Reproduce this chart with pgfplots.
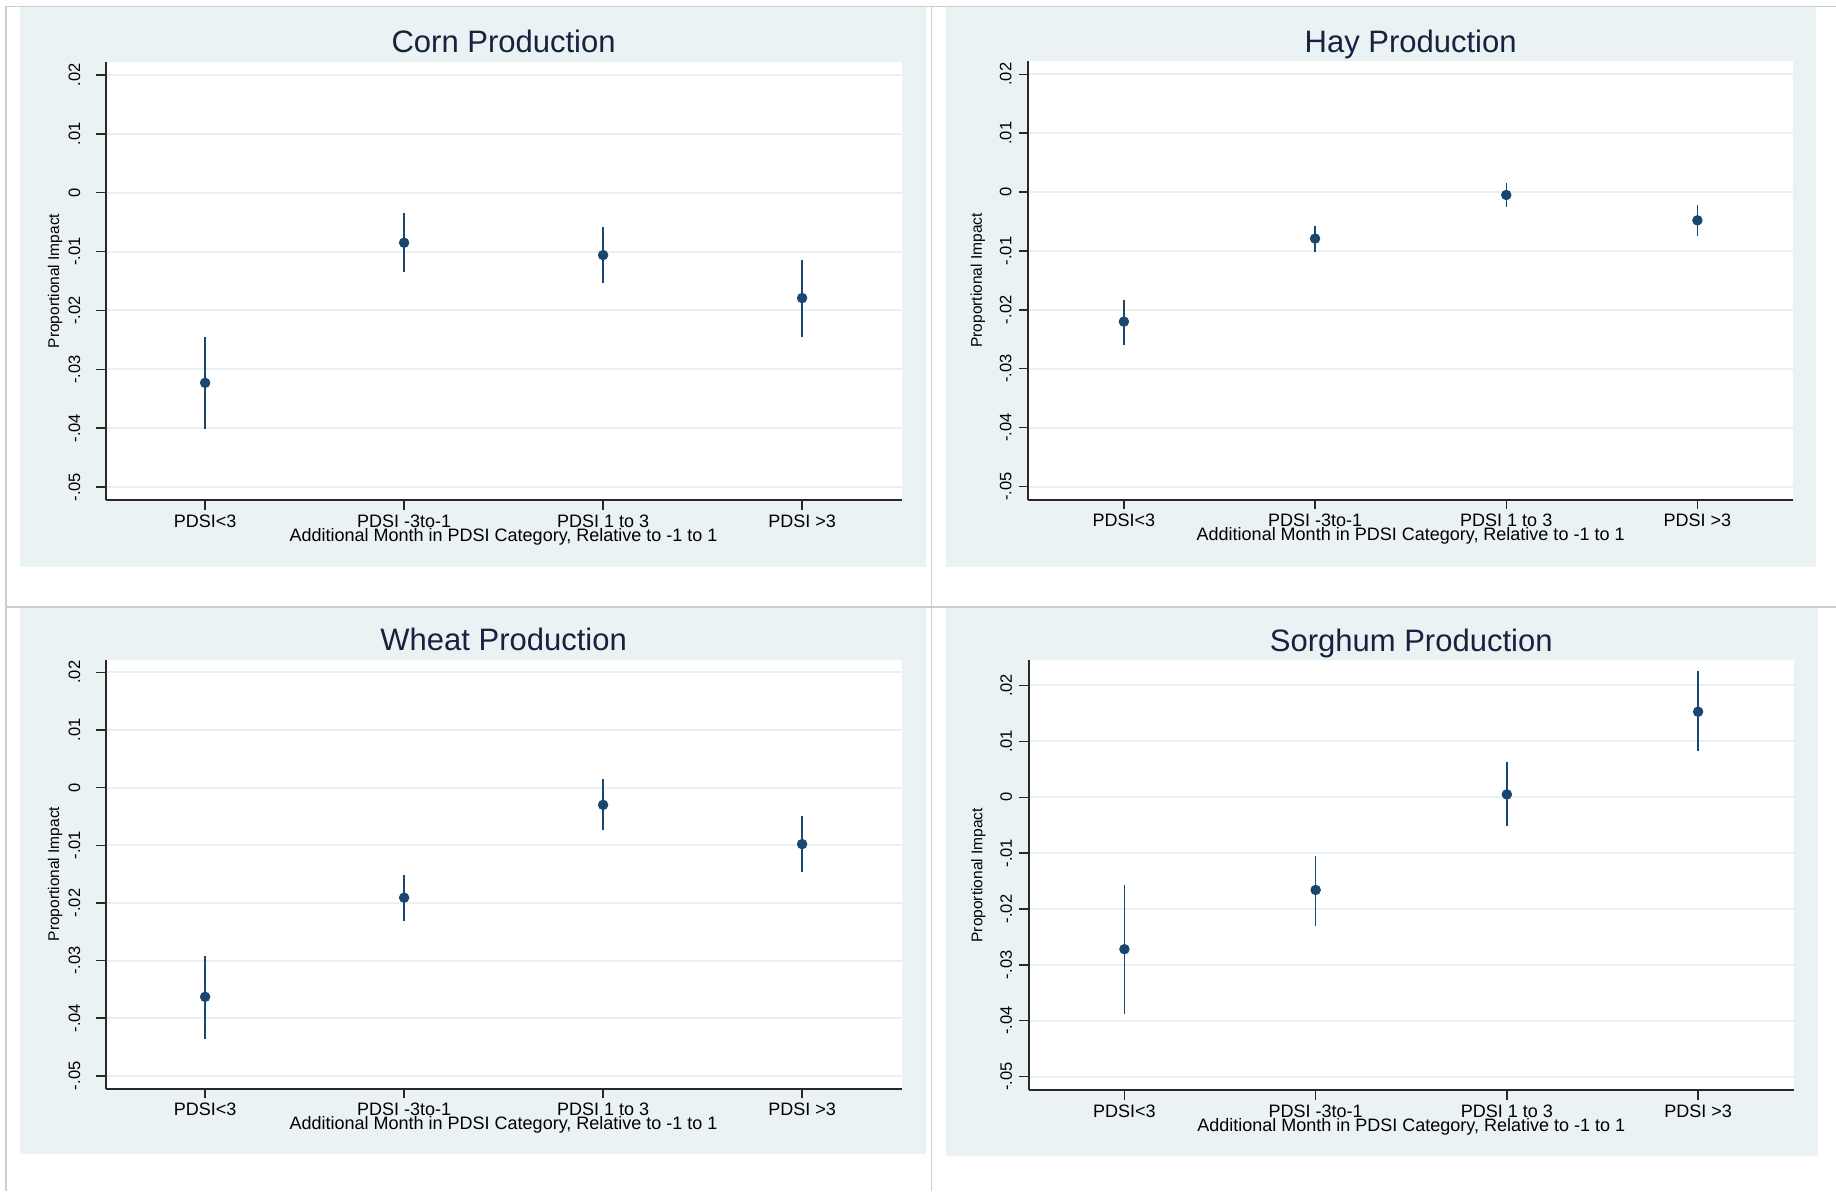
\documentclass[border=0pt]{standalone}
\usepackage{fontspec}
\setmainfont{Liberation Sans}
\usepackage{pgfplots}
\pgfplotsset{compat=1.18}
\usepackage{pgfplotstable}

\definecolor{panelbg}{RGB}{234,242,243}
\definecolor{gridc}{RGB}{232,240,242}
\definecolor{navy}{RGB}{26,71,111}
\definecolor{framec}{RGB}{204,204,204}
\definecolor{axc}{RGB}{40,40,40}
\definecolor{titc}{RGB}{22,34,62}

\pgfplotstableread{
x y lo hi
0 -0.0323 -0.0402 -0.0245
1 -0.0085 -0.0134 -0.0034
2 -0.0106 -0.0153 -0.0059
3 -0.0179 -0.0245 -0.0114
}\corn
\pgfplotstableread{
x y lo hi
0 -0.0220 -0.0259 -0.0183
1 -0.0079 -0.0101 -0.0057
2 -0.0005 -0.0026 0.0015
3 -0.0048 -0.0075 -0.0022
}\hay
\pgfplotstableread{
x y lo hi
0 -0.0363 -0.0436 -0.0292
1 -0.0191 -0.0231 -0.0151
2 -0.0030 -0.0073 0.0015
3 -0.0098 -0.0146 -0.0050
}\wheat
\pgfplotstableread{
x y lo hi
0 -0.0272 -0.0388 -0.0158
1 -0.0166 -0.0230 -0.0105
2 0.0005 -0.0052 0.0063
3 0.0153 0.0082 0.0225
}\sorghum

\pgfplotsset{
  panel/.style={
    scale only axis, anchor=south west,
    xmin=-0.5, xmax=3.5,
    scaled y ticks=false,
    axis x line*=bottom, axis y line*=left,
    axis line style={axc, line width=1pt},
    xtick={0,1,2,3},
    xticklabels={PDSI<3,PDSI -3to-1,PDSI 1 to 3,PDSI >3},
    ytick={-0.05,-0.04,-0.03,-0.02,-0.01,0,0.01,0.02},
    yticklabels={-.05,-.04,-.03,-.02,-.01,0,.01,.02},
    tick align=outside, major tick length=4.75pt,
    tick style={axc, line width=0.7pt},
    ymajorgrids, grid style={gridc, line width=1pt},
    axis background/.style={fill=white},
    xticklabel style={font=\fontsize{9}{10}\selectfont, anchor=base, inner sep=0pt, text=black},
    xticklabel shift=8.95pt,
    yticklabel style={font=\fontsize{8.25}{9}\selectfont, rotate=90, anchor=base, inner sep=0pt, text=black},
    xlabel={Additional Month in PDSI Category, Relative to -1 to 1},
    xlabel style={font=\fontsize{9}{10}\selectfont, at={(axis description cs:0.5,0)}, anchor=base, yshift=-20.5pt, inner sep=0pt, text=black},
    ylabel={Proportional Impact},
    every axis title/.style={font=\fontsize{15.5}{18}\selectfont, text=titc, at={(axis description cs:0.5,1)}, anchor=base, yshift=4.5pt, inner sep=0pt},
  },
  ylab/.style={ylabel style={font=\fontsize{7.75}{9}\selectfont, rotate=0, at={(axis description cs:-#1,0.5)}, anchor=base, inner sep=0pt, text=black}},
  ci/.style={navy, only marks, mark=*, mark size=2.4pt, mark options={fill=navy, draw=navy},
    error bars/.cd, y dir=both, y explicit, error mark=none,
    error bar style={navy, line width=0.75pt}},
}

\begin{document}
\begin{tikzpicture}
\path[use as bounding box, fill=white] (0pt,0pt) rectangle (918pt,595.5pt);
% panel backgrounds
\fill[panelbg] (10pt,312pt) rectangle (463pt,591.75pt);
\fill[panelbg] (473pt,312pt) rectangle (908pt,591.75pt);
\fill[panelbg] (10pt,18.5pt) rectangle (463pt,291.75pt);
\fill[panelbg] (473pt,17.5pt) rectangle (909pt,291.75pt);
% frame lines
\draw[framec, line width=0.8pt] (2.5pt,592.15pt) -- (918pt,592.15pt);
\draw[framec, line width=0.8pt] (2.5pt,292.15pt) -- (918pt,292.15pt);
\draw[framec, line width=0.8pt] (2.9pt,592.15pt) -- (2.9pt,0pt);
\draw[framec, line width=0.8pt] (465.8pt,592.15pt) -- (465.8pt,0pt);

% Corn
\begin{axis}[panel, at={(52.8pt,345.5pt)}, width=398pt, height=219pt,
  ymin=-0.0522, ymax=0.0222, yticklabel shift=8pt, ylab=0.0584,
  title={Corn Production}]
\addplot[ci] table[x=x, y=y, y error plus expr=\thisrow{hi}-\thisrow{y}, y error minus expr=\thisrow{y}-\thisrow{lo}] {\corn};
\end{axis}

% Hay
\begin{axis}[panel, at={(514.15pt,345.75pt)}, width=382.35pt, height=219.1pt,
  ymin=-0.0522, ymax=0.0222, yticklabel shift=3.75pt, ylab=0.0608,
  title={Hay Production}]
\addplot[ci] table[x=x, y=y, y error plus expr=\thisrow{hi}-\thisrow{y}, y error minus expr=\thisrow{y}-\thisrow{lo}] {\hay};
\end{axis}

% Wheat
\begin{axis}[panel, at={(52.8pt,51.25pt)}, width=398pt, height=214.45pt,
  ymin=-0.0522, ymax=0.0222, yticklabel shift=8pt, ylab=0.0584,
  title={Wheat Production}]
\addplot[ci] table[x=x, y=y, y error plus expr=\thisrow{hi}-\thisrow{y}, y error minus expr=\thisrow{y}-\thisrow{lo}] {\wheat};
\end{axis}

% Sorghum
\begin{axis}[panel, at={(514.4pt,50.5pt)}, width=382.45pt, height=214.85pt,
  ymin=-0.0524, ymax=0.0245, yticklabel shift=3.75pt, ylab=0.0608,
  title={Sorghum Production}]
\addplot[ci] table[x=x, y=y, y error plus expr=\thisrow{hi}-\thisrow{y}, y error minus expr=\thisrow{y}-\thisrow{lo}] {\sorghum};
\end{axis}
\end{tikzpicture}
\end{document}
